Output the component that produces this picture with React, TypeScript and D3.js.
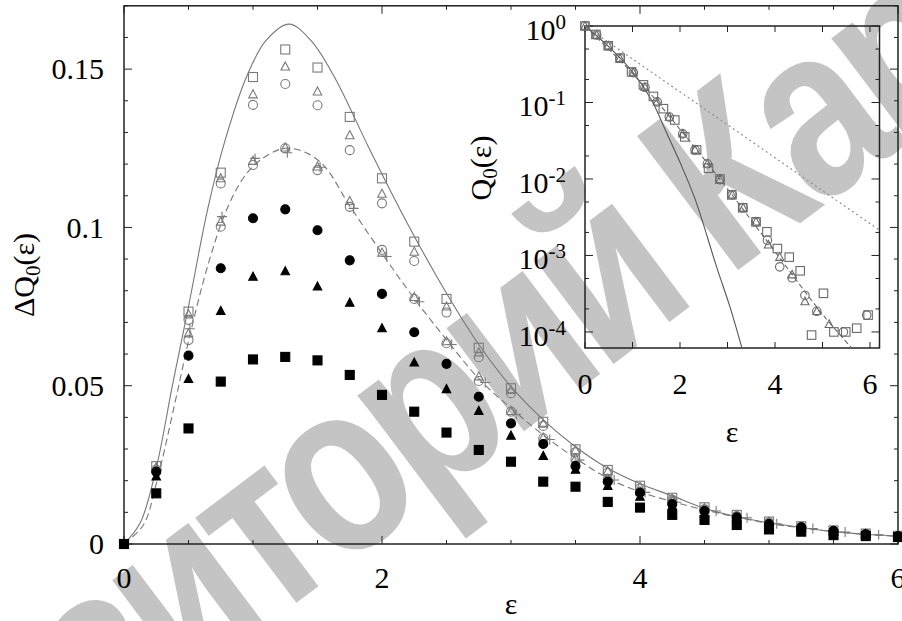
import React, { useEffect, useRef } from 'react';
import * as d3 from 'd3';

// ---- main panel data (ΔQ0 vs ε) ----
const EPS = [0, 0.25, 0.5, 0.75, 1, 1.25, 1.5, 1.75, 2, 2.25, 2.5, 2.75, 3, 3.25, 3.5, 3.75, 4, 4.25, 4.5, 4.75, 5, 5.25, 5.5, 5.75, 6];

const sqOpen = [0, 0.0246, 0.0734, 0.1173, 0.1475, 0.1562, 0.1505, 0.1349, 0.1155, 0.0955, 0.0774, 0.062, 0.0492, 0.0386, 0.0299, 0.0234, 0.0184, 0.0146, 0.0116, 0.0092, 0.0071, 0.0056, 0.0043, 0.0033, 0.0026];
const triOpen = [0, 0.0243, 0.0725, 0.1155, 0.142, 0.1508, 0.1429, 0.1291, 0.1106, 0.0923, 0.075, 0.0605, 0.0486, 0.038, 0.0296, 0.023, 0.018, 0.0143, 0.0113, 0.009, 0.007, 0.0055, 0.0042, 0.0032, 0.0026];
const circOpen = [0, 0.0234, 0.0708, 0.1139, 0.1387, 0.1453, 0.1386, 0.1244, 0.1076, 0.0894, 0.0731, 0.059, 0.0476, 0.0373, 0.029, 0.0225, 0.0176, 0.014, 0.011, 0.0088, 0.0068, 0.0054, 0.0041, 0.0031, 0.0025];

const circLow = [0, 0.0232, 0.0644, 0.1002, 0.1197, 0.125, 0.1181, 0.1065, 0.0929, 0.0774, 0.0634, 0.0515, 0.0418, 0.0334, 0.0268, 0.0204, 0.0165, 0.0134, 0.0108, 0.0086, 0.0066, 0.0052, 0.004, 0.0031, 0.0025];
const triLow = [0, 0.0236, 0.0665, 0.1018, 0.121, 0.1252, 0.1192, 0.1083, 0.092, 0.078, 0.064, 0.0529, 0.042, 0.0336, 0.027, 0.0206, 0.0166, 0.0135, 0.0109, 0.0087, 0.0067, 0.0053, 0.0041, 0.0031, 0.0025];

const plusEps = [0, 0.255, 0.51, 0.76, 1.016, 1.266, 1.52, 1.78, 2.036, 2.29, 2.54, 2.8, 3.04, 3.3, 3.53, 3.8, 4.04, 4.28, 4.59, 4.83, 5.06, 5.34, 5.59, 5.85];
const plusVal = [0, 0.0235, 0.068, 0.1034, 0.1218, 0.1236, 0.119, 0.106, 0.0908, 0.0765, 0.063, 0.051, 0.041, 0.033, 0.0265, 0.0202, 0.0163, 0.0132, 0.0104, 0.0083, 0.0064, 0.0049, 0.0038, 0.0029];

const dotFilled = [0, 0.0228, 0.0595, 0.0871, 0.1029, 0.1057, 0.0991, 0.0896, 0.079, 0.0669, 0.0569, 0.0465, 0.0381, 0.0316, 0.0246, 0.0197, 0.0162, 0.0126, 0.0104, 0.0084, 0.0063, 0.0053, 0.0042, 0.0031, 0.0025];
const triFilled = [0, 0.0213, 0.0521, 0.0736, 0.0844, 0.0861, 0.0813, 0.0762, 0.0681, 0.0573, 0.0489, 0.042, 0.0342, 0.0278, 0.0234, 0.0183, 0.0149, 0.012, 0.0096, 0.0078, 0.006, 0.0049, 0.0038, 0.003, 0.0024];
const sqFilled = [0, 0.016, 0.0365, 0.0513, 0.0583, 0.0591, 0.058, 0.0534, 0.0471, 0.0418, 0.0352, 0.0297, 0.026, 0.0197, 0.0181, 0.0133, 0.0115, 0.0092, 0.0076, 0.006, 0.0046, 0.0039, 0.0028, 0.0025, 0.0022];

// theory curves
const solidEps = [0, 0.125, 0.25, 0.375, 0.5, 0.65, 0.78, 0.95, 1.1, 1.28, 1.45, 1.63, 1.9, 2.2, 2.5, 2.75, 3, 3.25, 3.5, 3.75, 4, 4.25, 4.5, 4.75, 5, 5.25, 5.5, 5.75, 6];
const solidVal = [0, 0.0066, 0.024, 0.05, 0.075, 0.106, 0.127, 0.1476, 0.159, 0.1642, 0.159, 0.1476, 0.125, 0.101, 0.0792, 0.063, 0.0497, 0.0392, 0.0307, 0.0239, 0.019, 0.0152, 0.0113, 0.0086, 0.0067, 0.0052, 0.0039, 0.0031, 0.0025];
const dashedEps = [0, 0.15, 0.25, 0.4, 0.5, 0.65, 0.8, 0.95, 1.1, 1.25, 1.4, 1.55, 1.75, 2, 2.24, 2.5, 2.76, 3, 3.25, 3.5, 3.75, 4, 4.25, 4.5, 4.75, 5, 5.25, 5.5, 5.75, 6];
const dashedVal = [0, 0.006, 0.019, 0.0455, 0.064, 0.088, 0.106, 0.117, 0.1225, 0.125, 0.1238, 0.1195, 0.1068, 0.0918, 0.0781, 0.0645, 0.0518, 0.0429, 0.0344, 0.0271, 0.0208, 0.0165, 0.0134, 0.0108, 0.0085, 0.0065, 0.0051, 0.0039, 0.003, 0.0024];

const xTicks = [0, 2, 4, 6];
const yTicks = [0, 0.05, 0.1, 0.15];
const yTickLabels = ['0', '0.05', '0.1', '0.15'];

// ---- inset data (Q0 vs ε, log scale) ----
const inSqEps = [0, 0.23, 0.49, 0.74, 0.98, 1.23, 1.44, 1.65, 1.89, 2.1, 2.35, 2.6, 2.84, 3.09, 3.32, 3.6, 3.83, 4.05, 4.3, 4.53, 4.77, 5.02, 5.24, 5.49, 5.72, 5.96];
const inSqVal = [1, 0.776, 0.55, 0.38, 0.251, 0.17, 0.12, 0.083, 0.059, 0.0355, 0.024, 0.0138, 0.01, 0.0062, 0.0042, 0.00275, 0.00204, 0.00123, 0.00095, 0.00063, 0.000091, 0.00032, 0.0001, 0.0001, 0.000112, 0.000166];
const inCircEps = [0, 0.246, 0.49, 0.737, 1.017, 1.263, 1.52, 1.775, 2.057, 2.316, 2.575, 2.842, 3.1, 3.33, 3.6, 3.84, 4.1, 4.36, 4.63, 4.88, 5.44, 5.93];
const inCircVal = [1, 0.762, 0.552, 0.378, 0.245, 0.158, 0.102, 0.0646, 0.0389, 0.024, 0.0158, 0.0098, 0.0062, 0.0042, 0.00275, 0.00158, 0.00071, 0.00051, 0.0003, 0.000186, 0.0001, 0.000166];
const inTriEps = [0, 0.246, 0.49, 0.737, 1.017, 1.263, 1.52, 1.775, 2.057, 2.316, 2.575, 2.842, 3.1, 3.33, 3.6, 3.86, 4.1, 4.36, 4.63, 4.88, 5.14];
const inTriVal = [1, 0.762, 0.552, 0.378, 0.245, 0.158, 0.102, 0.0646, 0.0389, 0.024, 0.0158, 0.0098, 0.0062, 0.0042, 0.00275, 0.00138, 0.00095, 0.00056, 0.00025, 0.000186, 0.000126];

const inSolidEps = [0, 0.5, 1, 1.4, 1.72, 2, 2.32, 2.77, 3.05, 3.3];
const inSolidVal = [1, 0.537, 0.251, 0.108, 0.0398, 0.0165, 0.0054, 0.00071, 0.000214, 0.000063];
const inDashEps = [0, 1, 2, 3, 4, 5, 5.6];
const inDashVal = [1, 0.24, 0.0447, 0.0074, 0.00112, 0.00017, 0.000063];
const inDotEps = [0, 6.2];
const inDotVal = [1, 0.00214];

const inXTicks = [0, 2, 4, 6];
const inYTicks = [1, 0.1, 0.01, 0.001, 0.0001];
const inYExp = ['0', '-1', '-2', '-3', '-4'];

const SERIF = "'Liberation Serif', 'Times New Roman', serif";
const FS = 30;

function drawMarker(g, kind, cx, cy, s, color, filled) {
  const fill = filled ? color : 'none';
  if (kind === 'sq') {
    g.append('rect').attr('x', cx - s / 2).attr('y', cy - s / 2).attr('width', s).attr('height', s)
      .attr('fill', fill).attr('stroke', color).attr('stroke-width', 1.1);
  } else if (kind === 'ci') {
    g.append('circle').attr('cx', cx).attr('cy', cy).attr('r', s / 2)
      .attr('fill', fill).attr('stroke', color).attr('stroke-width', 1.1);
  } else if (kind === 'tr') {
    g.append('path')
      .attr('d', `M${cx},${cy - s * 0.55}L${cx + s / 2},${cy + s * 0.4}L${cx - s / 2},${cy + s * 0.4}Z`)
      .attr('fill', fill).attr('stroke', color).attr('stroke-width', 1.1);
  } else {
    g.append('path')
      .attr('d', `M${cx - s / 2},${cy}H${cx + s / 2}M${cx},${cy - s / 2}V${cy + s / 2}`)
      .attr('fill', 'none').attr('stroke', color).attr('stroke-width', 1.1);
  }
}

function label(g, x, y, size) {
  return g.append('text').attr('x', x).attr('y', y)
    .style('font-family', SERIF).style('font-size', size + 'px').attr('fill', '#000');
}

export default function App() {
  const svgRef = useRef<SVGSVGElement>(null);

  useEffect(() => {
    const svg = d3.select(svgRef.current);
    svg.selectAll('*').remove();

    // watermark behind everything
    svg.append('text')
      .attr('x', 0).attr('y', 0)
      .attr('transform', 'translate(-240,1007) rotate(-37) scale(1,1.22)')
      .style('font-family', "'Liberation Sans', Arial, sans-serif")
      .style('font-weight', 'bold')
      .style('font-size', '200px')
      .style('letter-spacing', '-11px')
      .attr('fill', '#c4c4c4')
      .text('Репозиторий КарГУ');

    // ---------- main panel ----------
    const x = d3.scaleLinear().domain([0, 6]).range([124, 898]);
    const y = d3.scaleLinear().domain([0, 0.17]).range([544, 5.8]);
    const main = svg.append('g');

    // ticks (inward on all four sides)
    d3.range(0, 6.001, 0.5).forEach(t => {
      const len = xTicks.includes(t) ? 8 : 4;
      main.append('line').attr('x1', x(t)).attr('x2', x(t)).attr('y1', 544).attr('y2', 544 - len).attr('stroke', '#222');
      main.append('line').attr('x1', x(t)).attr('x2', x(t)).attr('y1', 5.8).attr('y2', 5.8 + len).attr('stroke', '#222');
    });
    d3.range(0, 18).forEach(k => {
      const t = k / 100;
      const len = k % 5 === 0 ? 8 : 4;
      main.append('line').attr('y1', y(t)).attr('y2', y(t)).attr('x1', 124).attr('x2', 124 + len).attr('stroke', '#222');
      main.append('line').attr('y1', y(t)).attr('y2', y(t)).attr('x1', 898).attr('x2', 898 - len).attr('stroke', '#222');
    });
    main.append('rect').attr('x', 124).attr('y', 5.8).attr('width', 774).attr('height', 538.2)
      .attr('fill', 'none').attr('stroke', '#222').attr('stroke-width', 1.5);

    xTicks.forEach(t => {
      label(main, x(t), 588, FS).attr('text-anchor', 'middle').text(String(t));
    });
    yTicks.forEach((t, i) => {
      label(main, 104, y(t), FS).attr('dy', '0.34em').attr('text-anchor', 'end').text(yTickLabels[i]);
    });
    label(main, 511, 614, FS).attr('text-anchor', 'middle').text('ε');
    const yl = main.append('text').attr('transform', 'translate(34,275) rotate(-90)').attr('text-anchor', 'middle')
      .style('font-family', SERIF).style('font-size', FS + 'px').attr('fill', '#000');
    yl.append('tspan').text('ΔQ');
    yl.append('tspan').attr('dy', 6).style('font-size', '21px').text('0');
    yl.append('tspan').attr('dy', -6).text('(ε)');

    // curves
    const line = d3.line<number>().curve(d3.curveCatmullRom.alpha(0.5));
    main.append('path')
      .attr('d', line.x((d, i) => x(solidEps[i])).y(d => y(d))(solidVal))
      .attr('fill', 'none').attr('stroke', '#777').attr('stroke-width', 1.1);
    main.append('path')
      .attr('d', line.x((d, i) => x(dashedEps[i])).y(d => y(d))(dashedVal))
      .attr('fill', 'none').attr('stroke', '#777').attr('stroke-width', 1.1).attr('stroke-dasharray', '7,4');

    const gOpen = '#7a7a7a';
    sqOpen.forEach((v, i) => drawMarker(main, 'sq', x(EPS[i]), y(v), 9, gOpen, false));
    triOpen.forEach((v, i) => drawMarker(main, 'tr', x(EPS[i]), y(v), 8.5, gOpen, false));
    circOpen.forEach((v, i) => drawMarker(main, 'ci', x(EPS[i]), y(v), 9, gOpen, false));
    triLow.forEach((v, i) => drawMarker(main, 'tr', x(EPS[i]), y(v), 8.5, gOpen, false));
    circLow.forEach((v, i) => drawMarker(main, 'ci', x(EPS[i]), y(v), 9, gOpen, false));
    plusVal.forEach((v, i) => drawMarker(main, 'pl', x(plusEps[i]), y(v), 10, gOpen, false));
    dotFilled.forEach((v, i) => drawMarker(main, 'ci', x(EPS[i]), y(v), 9, '#000', true));
    triFilled.forEach((v, i) => drawMarker(main, 'tr', x(EPS[i]), y(v), 8.5, '#000', true));
    sqFilled.forEach((v, i) => drawMarker(main, 'sq', x(EPS[i]), y(v), 9, '#000', true));

    // ---------- inset ----------
    const ix = d3.scaleLinear().domain([0, 6.2]).range([585, 879.5]);
    const iy = d3.scaleLog().domain([Math.pow(10, -4.21), 1]).range([348, 26]);
    const ins = svg.append('g');

    d3.range(0, 7).forEach(t => {
      ins.append('line').attr('x1', ix(t)).attr('x2', ix(t)).attr('y1', 348).attr('y2', 342).attr('stroke', '#222');
      ins.append('line').attr('x1', ix(t)).attr('x2', ix(t)).attr('y1', 26).attr('y2', 32).attr('stroke', '#222');
    });
    inYTicks.forEach(dec => {
      [1, 2, 5].forEach(m => {
        const v = dec * m;
        if (v > 1 || v < Math.pow(10, -4.21)) return;
        const len = m === 1 ? 8 : 4;
        ins.append('line').attr('y1', iy(v)).attr('y2', iy(v)).attr('x1', 585).attr('x2', 585 + len).attr('stroke', '#222');
        ins.append('line').attr('y1', iy(v)).attr('y2', iy(v)).attr('x1', 879.5).attr('x2', 879.5 - len).attr('stroke', '#222');
      });
    });
    ins.append('rect').attr('x', 585).attr('y', 26).attr('width', 294.5).attr('height', 322)
      .attr('fill', 'none').attr('stroke', '#222').attr('stroke-width', 1.5);

    inXTicks.forEach(t => {
      label(ins, ix(t), 394, FS).attr('text-anchor', 'middle').text(String(t));
    });
    inYTicks.forEach((t, i) => {
      const tx = label(ins, 566, iy(t) + 14, FS).attr('text-anchor', 'end');
      tx.append('tspan').text('10');
      tx.append('tspan').attr('dy', -11).style('font-size', '21px').text(inYExp[i]);
    });
    label(ins, 732, 442, FS).attr('text-anchor', 'middle').text('ε');
    const il = ins.append('text').attr('transform', 'translate(491,168) rotate(-90)').attr('text-anchor', 'middle')
      .style('font-family', SERIF).style('font-size', FS + 'px').attr('fill', '#000');
    il.append('tspan').text('Q');
    il.append('tspan').attr('dy', 6).style('font-size', '21px').text('0');
    il.append('tspan').attr('dy', -6).text('(ε)');

    const iline = d3.line<number>().curve(d3.curveCatmullRom.alpha(0.5));
    ins.append('path')
      .attr('d', iline.x((d, i) => ix(inSolidEps[i])).y(d => iy(d))(inSolidVal))
      .attr('fill', 'none').attr('stroke', '#555').attr('stroke-width', 1.1);
    ins.append('path')
      .attr('d', iline.x((d, i) => ix(inDashEps[i])).y(d => iy(d))(inDashVal))
      .attr('fill', 'none').attr('stroke', '#666').attr('stroke-width', 1.1).attr('stroke-dasharray', '5,3');
    ins.append('path')
      .attr('d', d3.line<number>().x((d, i) => ix(inDotEps[i])).y(d => iy(d))(inDotVal))
      .attr('fill', 'none').attr('stroke', '#888').attr('stroke-width', 1.1).attr('stroke-dasharray', '2,3');

    const gIn = '#6a6a6a';
    inSqVal.forEach((v, i) => drawMarker(ins, 'sq', ix(inSqEps[i]), iy(v), 8.5, gIn, false));
    inCircVal.forEach((v, i) => drawMarker(ins, 'ci', ix(inCircEps[i]), iy(v), 8.5, gIn, false));
    inTriVal.forEach((v, i) => drawMarker(ins, 'tr', ix(inTriEps[i]), iy(v), 8, gIn, false));
  }, []);

  return (
    <svg ref={svgRef} width={902} height={621}
      style={{ position: 'absolute', left: 0, top: 0, background: '#fff' }} />
  );
}
